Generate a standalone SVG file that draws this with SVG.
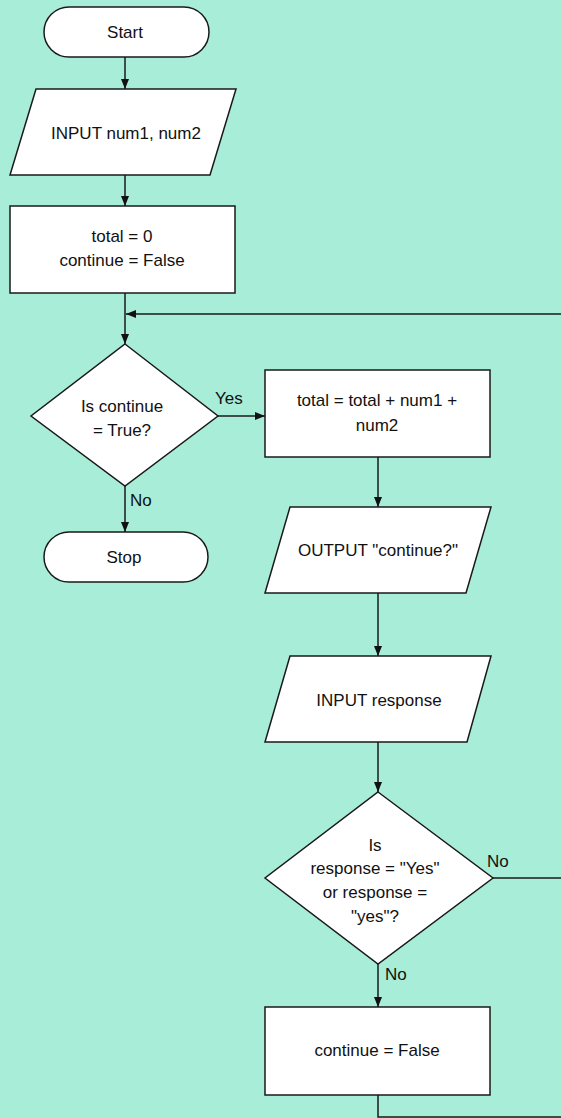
<svg xmlns="http://www.w3.org/2000/svg" width="561" height="1118" viewBox="0 0 561 1118">
<defs>
<marker id="arr" viewBox="0 0 10 8" refX="10" refY="4" markerWidth="10" markerHeight="8" markerUnits="userSpaceOnUse" orient="auto">
<path d="M0,0 L10,4 L0,8 Z" fill="#111"/>
</marker>
<style>
.s{fill:#fff;stroke:#1a1a1a;stroke-width:1.5}
.c{fill:none;stroke:#1a1a1a;stroke-width:1.5}
.t{font-family:"Liberation Sans",Arial,sans-serif;font-size:17px;fill:#111;text-anchor:middle}
.l{font-family:"Liberation Sans",Arial,sans-serif;font-size:17px;fill:#111}
</style>
</defs>
<rect width="561" height="1118" fill="#A8EDD8"/>
<g id="connectors">
<line class="c" x1="125" y1="57" x2="125" y2="89" marker-end="url(#arr)"/>
<line class="c" x1="125" y1="175" x2="125" y2="206" marker-end="url(#arr)"/>
<line class="c" x1="125" y1="293" x2="125" y2="344" marker-end="url(#arr)"/>
<line class="c" x1="562" y1="314" x2="126" y2="314" marker-end="url(#arr)"/>
<line class="c" x1="218" y1="416" x2="265" y2="416" marker-end="url(#arr)"/>
<line class="c" x1="125" y1="486" x2="125" y2="532" marker-end="url(#arr)"/>
<line class="c" x1="378" y1="457" x2="378" y2="507" marker-end="url(#arr)"/>
<line class="c" x1="378" y1="593" x2="378" y2="656" marker-end="url(#arr)"/>
<line class="c" x1="378" y1="742" x2="378" y2="792" marker-end="url(#arr)"/>
<line class="c" x1="493" y1="878" x2="562" y2="878"/>
<line class="c" x1="378" y1="964" x2="378" y2="1007" marker-end="url(#arr)"/>
<polyline class="c" points="378,1095 378,1117 562,1117"/>
<text class="l" x="215" y="404">Yes</text>
<text class="l" x="130" y="506">No</text>
<text class="l" x="487" y="867">No</text>
<text class="l" x="385" y="980">No</text>
</g>
<g id="start">
<rect class="s" x="44" y="7" width="165" height="50" rx="25"/>
<text class="t" x="125" y="38">Start</text>
</g>
<g id="input1">
<polygon class="s" points="36,89 236,89 210,175 10,175"/>
<text class="t" x="126" y="139">INPUT num1, num2</text>
</g>
<g id="init">
<rect class="s" x="10" y="206" width="225" height="87"/>
<text class="t" x="122" y="242">total = 0</text>
<text class="t" x="122" y="266">continue = False</text>
</g>
<g id="decision1">
<polygon class="s" points="125,344 218,416 125,486 31,416"/>
<text class="t" x="122" y="412">Is continue</text>
<text class="t" x="122" y="436">= True?</text>
</g>
<g id="stop">
<rect class="s" x="44" y="532" width="164" height="50" rx="25"/>
<text class="t" x="124" y="563">Stop</text>
</g>
<g id="add">
<rect class="s" x="265" y="370" width="225" height="87"/>
<text class="t" x="377" y="406">total = total + num1 +</text>
<text class="t" x="377" y="431">num2</text>
</g>
<g id="output">
<polygon class="s" points="290,507 491,507 466,593 265,593"/>
<text class="t" x="378" y="556">OUTPUT "continue?"</text>
</g>
<g id="input2">
<polygon class="s" points="290,656 491,656 467,742 265,742"/>
<text class="t" x="379" y="706">INPUT response</text>
</g>
<g id="decision2">
<polygon class="s" points="378,792 493,878 378,964 265,878"/>
<text class="t" x="375" y="851">Is</text>
<text class="t" x="375" y="874">response = "Yes"</text>
<text class="t" x="375" y="898">or response =</text>
<text class="t" x="375" y="922">"yes"?</text>
</g>
<g id="setfalse">
<rect class="s" x="265" y="1007" width="225" height="88"/>
<text class="t" x="377" y="1056">continue = False</text>
</g>
</svg>
